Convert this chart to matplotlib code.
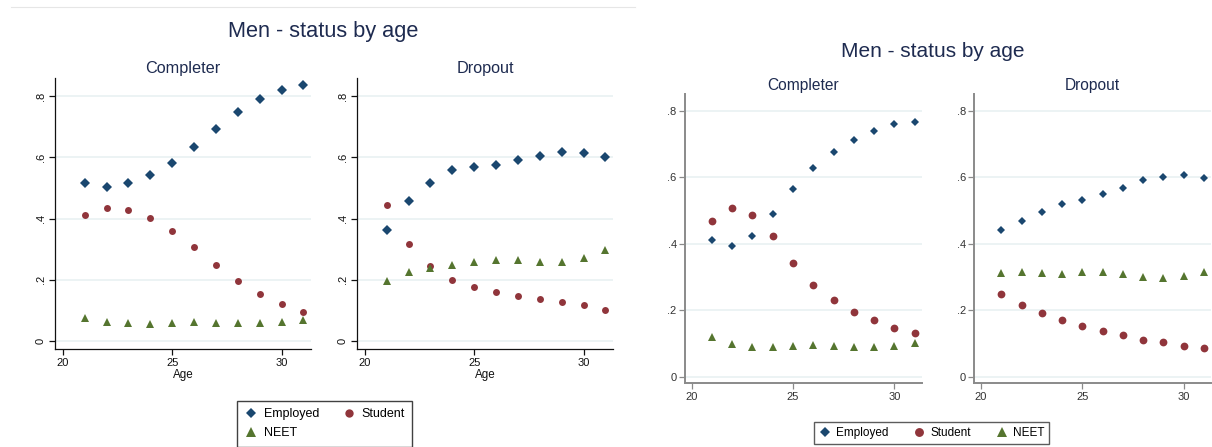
import matplotlib.pyplot as plt
from matplotlib.lines import Line2D

plt.rcParams['font.family'] = ['Liberation Sans', 'DejaVu Sans']

ages = [21, 22, 23, 24, 25, 26, 27, 28, 29, 30, 31]
statuses = ['Employed', 'Student', 'NEET']
groups = ['Completer', 'Dropout']
y_ticks = [0, 0.2, 0.4, 0.6, 0.8]
y_labels = ['0', '.2', '.4', '.6', '.8']
x_ticks = [20, 25, 30]

# left chart
left_completer_employed = [0.516, 0.504, 0.515, 0.542, 0.580, 0.635, 0.693, 0.747, 0.790, 0.819, 0.835]
left_completer_student = [0.410, 0.433, 0.429, 0.403, 0.360, 0.306, 0.248, 0.195, 0.152, 0.121, 0.096]
left_completer_neet = [0.074, 0.063, 0.058, 0.057, 0.060, 0.061, 0.060, 0.060, 0.059, 0.063, 0.070]
left_dropout_employed = [0.361, 0.458, 0.517, 0.557, 0.567, 0.576, 0.590, 0.605, 0.617, 0.615, 0.602]
left_dropout_student = [0.444, 0.318, 0.246, 0.198, 0.176, 0.161, 0.148, 0.137, 0.126, 0.118, 0.103]
left_dropout_neet = [0.196, 0.225, 0.239, 0.247, 0.258, 0.264, 0.264, 0.259, 0.258, 0.270, 0.297]

# right chart
right_completer_employed = [0.413, 0.395, 0.425, 0.489, 0.565, 0.629, 0.678, 0.713, 0.739, 0.760, 0.768]
right_completer_student = [0.469, 0.508, 0.488, 0.423, 0.342, 0.277, 0.230, 0.196, 0.171, 0.148, 0.133]
right_completer_neet = [0.120, 0.099, 0.089, 0.090, 0.094, 0.096, 0.093, 0.091, 0.091, 0.093, 0.101]
right_dropout_employed = [0.441, 0.469, 0.497, 0.520, 0.533, 0.549, 0.568, 0.592, 0.601, 0.606, 0.598]
right_dropout_student = [0.249, 0.217, 0.193, 0.172, 0.152, 0.138, 0.125, 0.110, 0.104, 0.092, 0.088]
right_dropout_neet = [0.312, 0.315, 0.312, 0.310, 0.317, 0.316, 0.310, 0.301, 0.298, 0.304, 0.317]

NAVY = '#1A476F'
MAROON = '#90353B'
GREEN = '#55752F'
TITLE_COL = '#1E2B50'
GRID_COL = '#EAF2F3'

W, H = 1212, 447
fig = plt.figure(figsize=(W / 100, H / 100), dpi=100)


def px_box(x0, y0, x1, y1):
    return [x0 / W, 1 - y1 / H, (x1 - x0) / W, (y1 - y0) / H]


def fx(x):
    return x / W


def fy(y):
    return 1 - y / H


def draw_panel(box, employed, student, neet, ylim, xlim, sizes, spine_col, spine_w, label_col, rotate):
    ax = fig.add_axes(px_box(*box))
    ax.plot(ages, employed, ls='none', marker='D', color=NAVY, ms=sizes[0], mew=0)
    ax.plot(ages, student, ls='none', marker='o', color=MAROON, ms=sizes[1], mew=0)
    ax.plot(ages, neet, ls='none', marker='^', color=GREEN, ms=sizes[2], mew=0)
    ax.set_xlim(*xlim)
    ax.set_ylim(*ylim)
    ax.set_xticks(x_ticks)
    ax.set_yticks(y_ticks)
    ax.set_yticklabels(y_labels)
    ax.yaxis.grid(True, color=GRID_COL, lw=1.3)
    ax.set_axisbelow(True)
    for s in ['top', 'right']:
        ax.spines[s].set_visible(False)
    for s in ['left', 'bottom']:
        ax.spines[s].set_color(spine_col)
        ax.spines[s].set_linewidth(spine_w)
    ax.tick_params(length=4, width=0.9, color=spine_col, labelcolor=label_col, labelsize=8)
    ax.tick_params(axis='x', pad=2.5)
    if rotate:
        ax.tick_params(axis='y', labelrotation=90, pad=3)
        for t in ax.get_yticklabels():
            t.set_va('center')
    else:
        ax.tick_params(axis='y', pad=2)
    return ax


# ---- left chart ----
fig.add_artist(Line2D([fx(11), fx(635)], [fy(7.3), fy(7.3)], color='#E6E6E6', lw=0.8))
fig.text(fx(323), fy(37.3), 'Men - status by age', ha='center', va='baseline', fontsize=15.7, color=TITLE_COL)

left_sets = [
    (left_completer_employed, left_completer_student, left_completer_neet),
    (left_dropout_employed, left_dropout_student, left_dropout_neet),
]
left_boxes = [(55.3, 78.3, 310.7, 348.7), (357.3, 78.3, 612.7, 348.7)]
for b, (e, s, n), g in zip(left_boxes, left_sets, groups):
    draw_panel(b, e, s, n, (-0.025, 0.858), (19.66, 31.33), (4.7, 5.0, 6.2), '#111111', 0.9, '#111111', True)
    cx = (b[0] + b[2]) / 2
    fig.text(fx(cx), fy(72.7), g, ha='center', va='baseline', fontsize=11.7, color=TITLE_COL)
    fig.text(fx(cx), fy(377.7), 'Age', ha='center', va='baseline', fontsize=8.4, color='#111111')

h = [Line2D([], [], ls='none', marker='D', color=NAVY, ms=5.4, mew=0),
     Line2D([], [], ls='none', marker='^', color=GREEN, ms=7.0, mew=0),
     Line2D([], [], ls='none', marker='o', color=MAROON, ms=6.0, mew=0)]
leg = fig.legend(h, ['Employed', 'NEET', 'Student'], ncol=2, loc='upper left',
                 bbox_to_anchor=(fx(237.3), fy(400.7)), fontsize=9, frameon=True, fancybox=False,
                 edgecolor='#111111', borderpad=0.6, handletextpad=0.5, columnspacing=1.9,
                 handlelength=1.0, labelspacing=0.55, borderaxespad=0)
leg.get_frame().set_linewidth(1.0)

# ---- right chart ----
fig.text(fx(933), fy(57.3), 'Men - status by age', ha='center', va='baseline', fontsize=15, color=TITLE_COL)

right_sets = [
    (right_completer_employed, right_completer_student, right_completer_neet),
    (right_dropout_employed, right_dropout_student, right_dropout_neet),
]
right_boxes = [(685, 94.3, 921.7, 383.3), (974.3, 94.3, 1211, 383.3)]
for b, (e, s, n), g in zip(right_boxes, right_sets, groups):
    draw_panel(b, e, s, n, (-0.019, 0.850), (19.67, 31.35), (4.5, 5.6, 6.2), '#8A8A8A', 1.4, '#333333', False)
    cx = (b[0] + b[2]) / 2 if g == 'Completer' else 1092.3
    fig.text(fx(cx), fy(90), g, ha='center', va='baseline', fontsize=11.2, color=TITLE_COL)

h2 = [Line2D([], [], ls='none', marker='D', color=NAVY, ms=5.2, mew=0),
      Line2D([], [], ls='none', marker='o', color=MAROON, ms=6.4, mew=0),
      Line2D([], [], ls='none', marker='^', color=GREEN, ms=6.8, mew=0)]
leg2 = fig.legend(h2, statuses, ncol=3, loc='upper left',
                  bbox_to_anchor=(fx(814.3), fy(422.3)), fontsize=8.5, frameon=True, fancybox=False,
                  edgecolor='#333333', borderpad=0.4, handletextpad=0.45, columnspacing=2.1,
                  handlelength=1.0, borderaxespad=0)
leg2.get_frame().set_linewidth(1.0)

fig.savefig('out.png', dpi=100)
